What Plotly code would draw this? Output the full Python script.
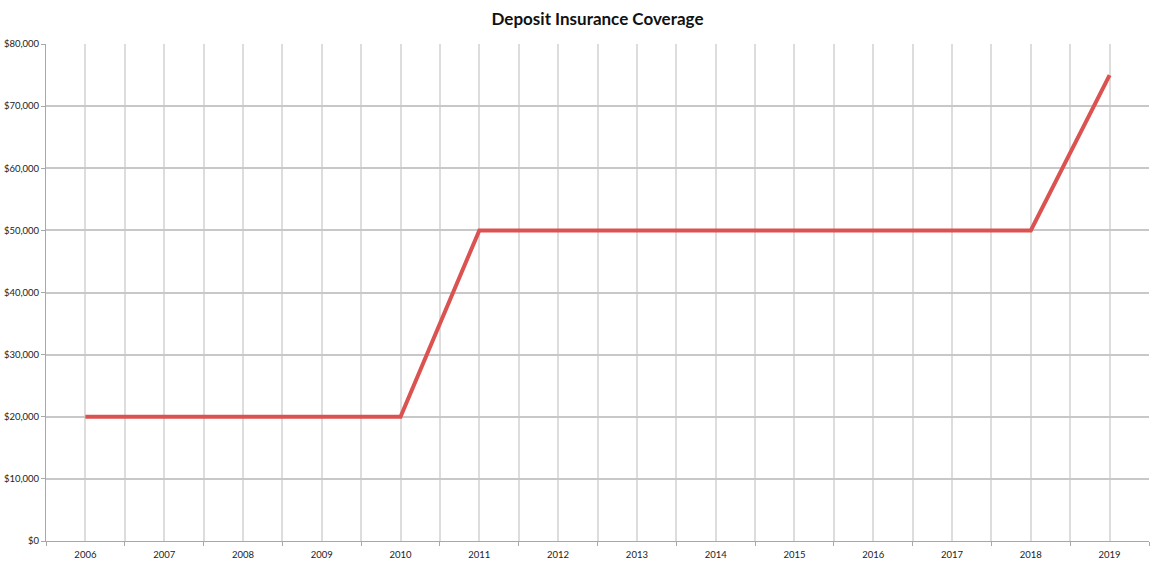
import plotly.graph_objects as go

years = [2006, 2007, 2008, 2009, 2010, 2011, 2012, 2013, 2014, 2015, 2016, 2017, 2018, 2019]
coverage = [20000, 20000, 20000, 20000, 20000, 50000, 50000, 50000, 50000, 50000, 50000, 50000, 50000, 75000]

fig = go.Figure()
fig.add_trace(go.Scatter(
    x=years,
    y=coverage,
    mode="lines",
    line=dict(color="#db5350", width=4),
    showlegend=False,
))

fig.update_layout(
    width=1160,
    height=564,
    margin=dict(l=46, r=11, t=44, b=23, autoexpand=False),
    paper_bgcolor="white",
    plot_bgcolor="white",
    font=dict(family="Lato, 'Open Sans', sans-serif", size=9.5, color="#222222"),
    title=dict(
        text="<b>Deposit Insurance Coverage</b>",
        x=0.5,
        xanchor="center",
        xref="paper",
        y=1 - 19 / 564,
        yref="container",
        yanchor="middle",
        font=dict(family="Lato, 'Open Sans', sans-serif", size=17, color="#111111"),
    ),
)

fig.update_xaxes(
    range=[2005.5, 2019.5],
    tickmode="linear",
    tick0=2006,
    dtick=1,
    automargin=False,
    showgrid=True,
    gridcolor="#dddddd",
    gridwidth=1.5,
    ticks="",
    ticklabelstandoff=5,
    showline=True,
    linecolor="#a8a8a8",
    linewidth=1,
    zeroline=False,
    minor=dict(
        tick0=2005.5,
        dtick=1,
        showgrid=True,
        gridcolor="#dddddd",
        gridwidth=1.5,
        ticks="outside",
        ticklen=4,
        tickcolor="#a8a8a8",
    ),
)

fig.update_yaxes(
    range=[0, 80000],
    dtick=10000,
    tickprefix="$",
    tickformat=",",
    automargin=False,
    showgrid=True,
    gridcolor="#c8c8c8",
    gridwidth=1.5,
    ticks="outside",
    ticklen=4,
    tickcolor="#a8a8a8",
    showline=True,
    linecolor="#a8a8a8",
    linewidth=1,
    zeroline=False,
)

# drop the default page margin so the figure fills the window from the corner
fig.write_html(
    "out.html",
    config={"displayModeBar": False},
    post_script="document.body.style.margin = '0';",
)
